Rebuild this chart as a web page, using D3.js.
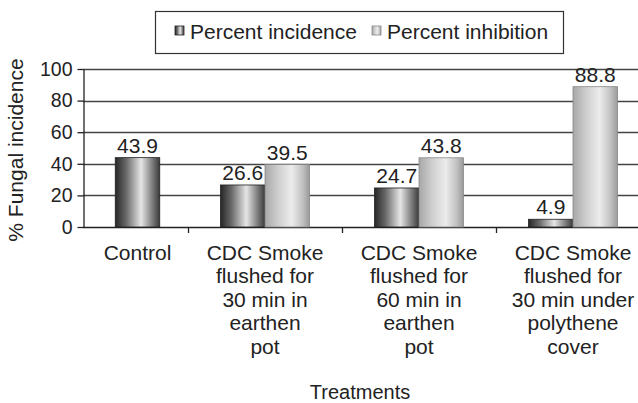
<!DOCTYPE html>
<html>
<head>
<meta charset="utf-8">
<script src="https://cdn.jsdelivr.net/npm/d3@7/dist/d3.min.js"></script>
<style>
  html, body { margin: 0; padding: 0; background: #fff; }
  svg { display: block; }
  text { font-family: "Liberation Sans", Arial, sans-serif; fill: #222; }
</style>
</head>
<body>
<svg id="chart" width="638" height="403"></svg>
<script>
// ---- data ----
const categories = ["Control", "CDC30Pot", "CDC60Pot", "CDC30Poly"];
const categoryLabels = [
  ["Control"],
  ["CDC Smoke", "flushed for", "30 min in", "earthen", "pot"],
  ["CDC Smoke", "flushed for", "60 min in", "earthen", "pot"],
  ["CDC Smoke", "flushed for", "30 min under", "polythene", "cover"]
];
const seriesNames = ["Percent incidence", "Percent inhibition"];
const incidence = [43.9, 26.6, 24.7, 4.9];
const inhibition = [null, 39.5, 43.8, 88.8];
const yTicks = [0, 20, 40, 60, 80, 100];
const yTitle = "% Fungal incidence";
const xTitle = "Treatments";

// ---- layout ----
const W = 638, H = 403;
const axisX = 83, yTop = 69, yBottom = 227;
const svg = d3.select("#chart");
const defs = svg.append("defs");

function grad(id, stops) {
  const g = defs.append("linearGradient").attr("id", id)
    .attr("x1", "0%").attr("x2", "100%").attr("y1", "0%").attr("y2", "0%");
  stops.forEach(s => g.append("stop").attr("offset", s[0]).attr("stop-color", s[1]));
}
grad("gInc", [["0%", "#262626"], ["25%", "#6a6a6a"], ["58%", "#e6e6e6"], ["80%", "#8a8a8a"], ["100%", "#3a3a3a"]]);
grad("gInh", [["0%", "#a8a8a8"], ["30%", "#cfcfcf"], ["60%", "#ececec"], ["85%", "#c0c0c0"], ["100%", "#9a9a9a"]]);
const fills = ["url(#gInc)", "url(#gInh)"];
const strokes = ["#222", "#888"];

const x = d3.scaleBand().domain(categories).range([34, 650]).paddingInner(0).paddingOuter(0);
const inner = d3.scaleBand().domain(seriesNames).range([0, x.bandwidth()]).paddingInner(0).paddingOuter(0.73);
const y = d3.scaleLinear().domain([0, 100]).range([yBottom, yTop]);

// gridlines
svg.append("g").selectAll("line").data(yTicks.filter(t => t > 0)).join("line")
  .attr("x1", axisX).attr("x2", W)
  .attr("y1", d => Math.round(y(d)) + 0.5).attr("y2", d => Math.round(y(d)) + 0.5)
  .attr("stroke", "#444").attr("stroke-width", 1.3);

// y axis
const yAxis = d3.axisLeft(y).tickValues(yTicks).tickSize(6).tickPadding(5).tickSizeOuter(0);
const gy = svg.append("g").attr("transform", `translate(${axisX + 0.5},0)`).call(yAxis);
gy.select(".domain").attr("stroke", "#222").attr("stroke-width", 1.3);
gy.selectAll(".tick line").attr("stroke", "#222").attr("stroke-width", 1.3);
gy.selectAll(".tick text").style("font-size", "19.5px").attr("fill", "#222")
  .style("font-family", '"Liberation Sans", Arial, sans-serif');

// x axis line and ticks
svg.append("line").attr("x1", axisX).attr("x2", W)
  .attr("y1", yBottom + 0.5).attr("y2", yBottom + 0.5)
  .attr("stroke", "#222").attr("stroke-width", 1.3);
svg.append("g").selectAll("line").data(categories.slice(1)).join("line")
  .attr("x1", d => Math.round(x(d)) + 0.5).attr("x2", d => Math.round(x(d)) + 0.5)
  .attr("y1", yBottom).attr("y2", yBottom + 6)
  .attr("stroke", "#222").attr("stroke-width", 1.3);

// category centers (first band is clipped by the axis)
function catCenter(i) {
  const c = categories[i];
  if (i === 0) return (axisX + x(c) + x.bandwidth()) / 2 + 2;
  return x(c) + x.bandwidth() / 2;
}

// bars
const bars = [];
categories.forEach((c, i) => {
  const vals = [incidence[i], inhibition[i]];
  if (vals[1] == null) {
    bars.push({ s: 0, v: vals[0], x0: catCenter(i) - inner.bandwidth() / 2 });
  } else {
    vals.forEach((v, s) => bars.push({ s, v, x0: x(c) + inner(seriesNames[s]) }));
  }
});
svg.append("g").selectAll("rect").data(bars).join("rect")
  .attr("x", d => d.x0).attr("width", inner.bandwidth())
  .attr("y", d => y(d.v)).attr("height", d => y(0) - y(d.v))
  .attr("fill", d => fills[d.s]).attr("stroke", d => strokes[d.s]).attr("stroke-width", 0.8);

// value labels
svg.append("g").selectAll("text").data(bars).join("text")
  .attr("x", d => d.x0 + inner.bandwidth() / 2).attr("y", d => y(d.v) - 5)
  .attr("text-anchor", "middle").style("font-size", "21px")
  .text(d => d.v.toFixed(1));

// category labels
const lab = svg.append("g");
categoryLabels.forEach((lines, i) => {
  const t = lab.append("text").attr("text-anchor", "middle").style("font-size", "21px")
    .attr("x", catCenter(i)).attr("y", 260);
  lines.forEach((ln, k) => t.append("tspan").attr("x", catCenter(i)).attr("dy", k === 0 ? 0 : 23.4).text(ln));
});

// axis titles
svg.append("text").attr("x", 360).attr("y", 399).attr("text-anchor", "middle")
  .style("font-size", "20px").text(xTitle);
svg.append("text").attr("transform", `translate(23,150) rotate(-90)`).attr("text-anchor", "middle")
  .style("font-size", "21px").text(yTitle);

// legend
const lg = svg.append("g");
lg.append("rect").attr("x", 155.5).attr("y", 11.5).attr("width", 408).attr("height", 42)
  .attr("fill", "#fff").attr("stroke", "#333").attr("stroke-width", 1.2);
const legendX = [175, 372];
seriesNames.forEach((n, s) => {
  lg.append("rect").attr("x", legendX[s]).attr("y", 26).attr("width", 9).attr("height", 9)
    .attr("fill", fills[s]).attr("stroke", strokes[s]).attr("stroke-width", 0.8);
  lg.append("text").attr("x", legendX[s] + 15).attr("y", 39).style("font-size", "21px").text(n);
});
</script>
</body>
</html>
